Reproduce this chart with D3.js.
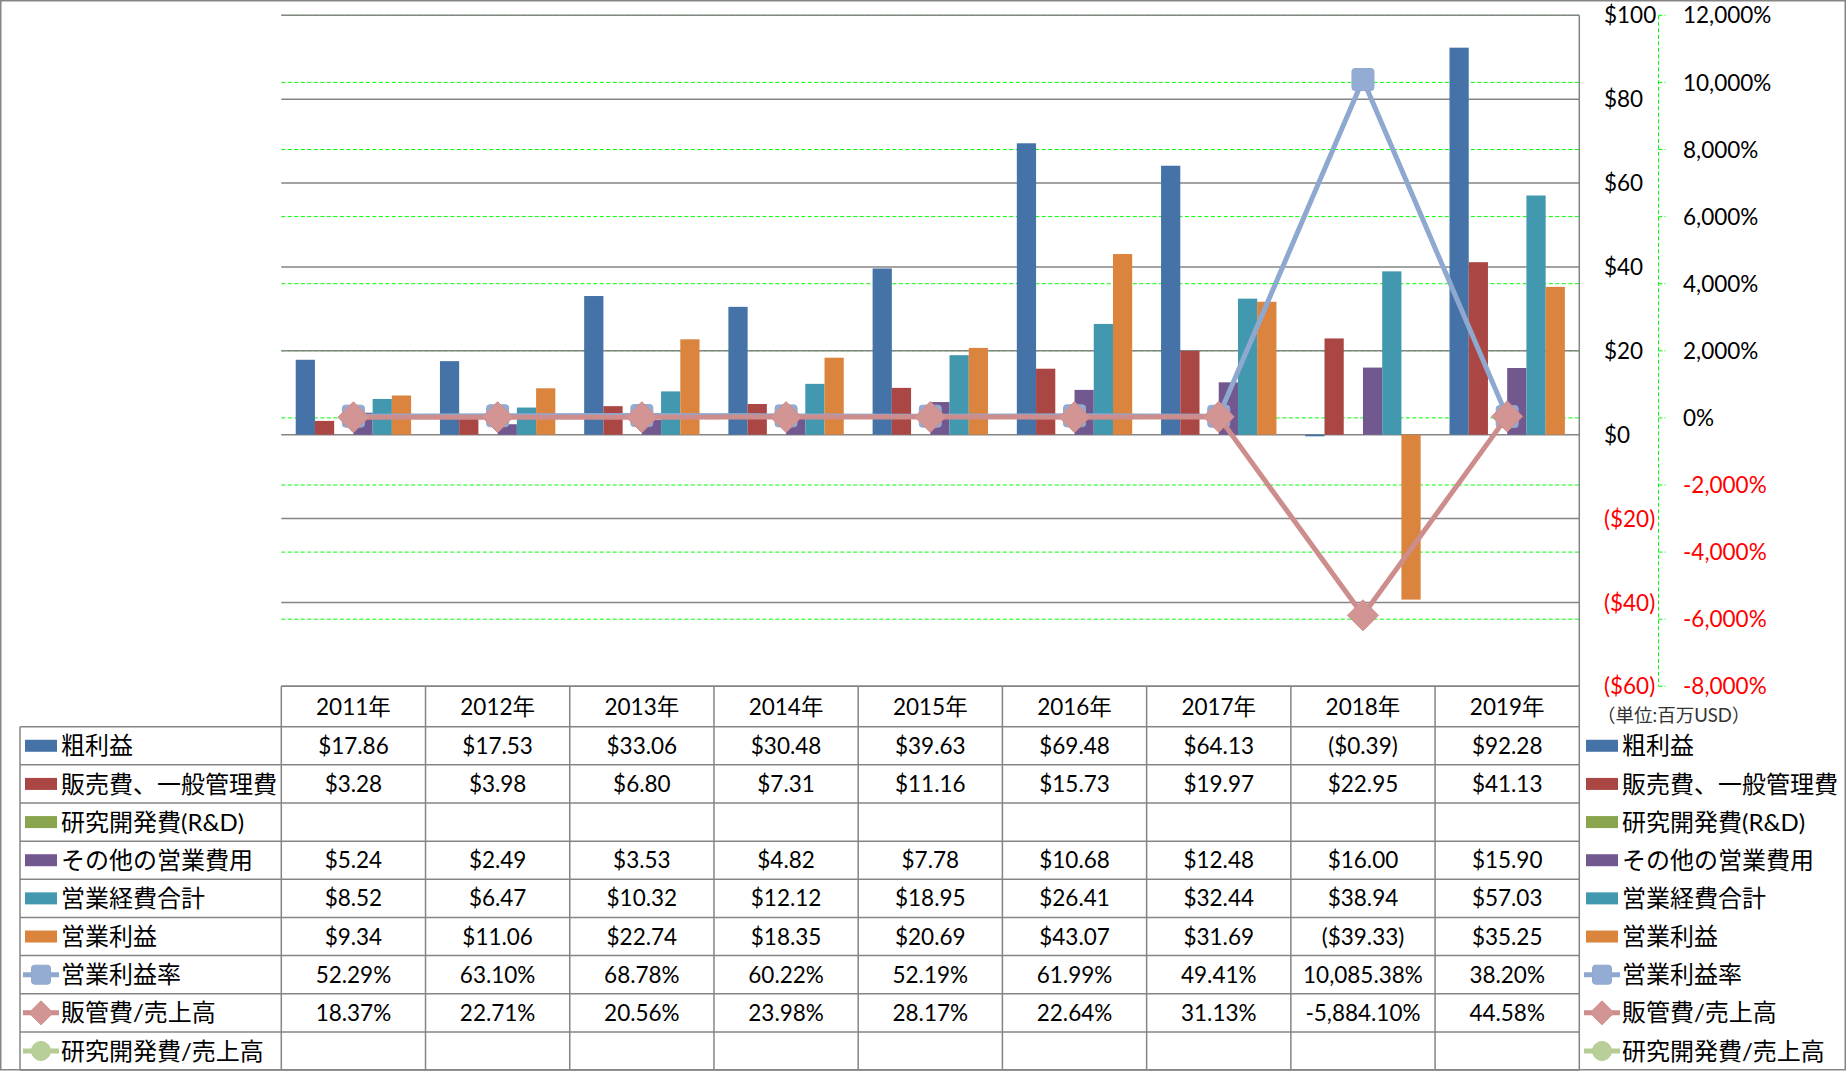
<!DOCTYPE html>
<html><head><meta charset="utf-8">
<script src="https://cdn.jsdelivr.net/npm/d3@7"></script>
<style>
body{margin:0;background:#fff}
svg{display:block}
text{font-family:Lato,'Noto Sans CJK JP',sans-serif}
</style>
</head><body>
<svg id="c" width="1846" height="1071"></svg>
<script>
// ---------- DATA ----------
const years = ["2011年","2012年","2013年","2014年","2015年","2016年","2017年","2018年","2019年"];
const grossProfit = [17.86,17.53,33.06,30.48,39.63,69.48,64.13,-0.39,92.28];
const sgaExpense  = [3.28,3.98,6.80,7.31,11.16,15.73,19.97,22.95,41.13];
const rndExpense  = [null,null,null,null,null,null,null,null,null];
const otherOpex   = [5.24,2.49,3.53,4.82,7.78,10.68,12.48,16.00,15.90];
const totalOpex   = [8.52,6.47,10.32,12.12,18.95,26.41,32.44,38.94,57.03];
const opIncome    = [9.34,11.06,22.74,18.35,20.69,43.07,31.69,-39.33,35.25];
const opMargin    = [52.29,63.10,68.78,60.22,52.19,61.99,49.41,10085.38,38.20];
const sgaRatio    = [18.37,22.71,20.56,23.98,28.17,22.64,31.13,-5884.10,44.58];
const rndRatio    = [null,null,null,null,null,null,null,null,null];
const leftTicks   = [100,80,60,40,20,0,-20,-40,-60];
const rightTicks  = [12000,10000,8000,6000,4000,2000,0,-2000,-4000,-6000,-8000];
const unitLabel   = "（単位:百万USD）";

const barSeries = [
  {name:"粗利益", values:grossProfit, color:"#4572A7"},
  {name:"販売費、一般管理費", values:sgaExpense, color:"#AA4643"},
  {name:"研究開発費(R&D)", values:rndExpense, color:"#89A54E"},
  {name:"その他の営業費用", values:otherOpex, color:"#71588F"},
  {name:"営業経費合計", values:totalOpex, color:"#4198AF"},
  {name:"営業利益", values:opIncome, color:"#DB843D"}
];
const lineSeries = [
  {name:"営業利益率", values:opMargin, color:"#8FA8CF", mfill:"#94ACD4", marker:"square"},
  {name:"販管費/売上高", values:sgaRatio, color:"#CD8D8C", mfill:"#D39594", marker:"diamond"},
  {name:"研究開発費/売上高", values:rndRatio, color:"#B5CC95", mfill:"#B9CF99", marker:"circle"}
];

// ---------- LAYOUT ----------
const svg = d3.select("#c");
const plotL = 281.3, plotR = 1579.3, plotT = 15.3, plotB = 686.3;
const headerB = 726.7, rowH = 38.15, tableB = headerB + rowH*9;
const legendL = 20;
const gridCol = "#858585";
const loc = d3.formatLocale({decimal:".", thousands:",", grouping:[3], currency:["$",""], minus:"-"});

const x = d3.scaleBand().domain(years).range([plotL, plotR]).padding(0);
const xs = d3.scaleBand().domain(d3.range(barSeries.length)).range([0, x.bandwidth()]).paddingInner(0).paddingOuter(0.75);
const yL = d3.scaleLinear().domain([-60,100]).range([plotB, plotT]);
const yR = d3.scaleLinear().domain([-8000,12000]).range([plotB, plotT]);

// outer border
svg.append("rect").attr("x",0.75).attr("y",0.75).attr("width",1844.5).attr("height",1069)
  .attr("fill","none").attr("stroke",gridCol).attr("stroke-width",1.5);

// green dashed gridlines (secondary)
svg.append("g").selectAll("line").data(rightTicks).join("line")
  .attr("x1",plotL).attr("x2",plotR)
  .attr("y1",d=>yR(d)).attr("y2",d=>yR(d))
  .attr("stroke","#00FF00").attr("stroke-width",1).attr("stroke-dasharray","4,2.5");

// grey gridlines (primary)
svg.append("g").selectAll("line").data(leftTicks).join("line")
  .attr("x1",plotL).attr("x2",plotR)
  .attr("y1",d=>yL(d)).attr("y2",d=>yL(d))
  .attr("stroke",gridCol).attr("stroke-width",1.5);

// plot right border
svg.append("line").attr("x1",plotR).attr("x2",plotR).attr("y1",plotT).attr("y2",plotB)
  .attr("stroke",gridCol).attr("stroke-width",1.5);

// bars
barSeries.forEach((s,i)=>{
  svg.append("g").selectAll("rect").data(s.values.map((v,j)=>({v,year:years[j]})).filter(d=>d.v!=null)).join("rect")
    .attr("x",d=>x(d.year)+xs(i))
    .attr("width",xs.bandwidth())
    .attr("y",d=>Math.min(yL(0),yL(d.v)))
    .attr("height",d=>Math.abs(yL(d.v)-yL(0)))
    .attr("fill",s.color);
});

// markers
function drawMarker(g, type, cx, cy, size, fill, stroke){
  if(type==="square"){
    g.append("rect").attr("x",cx-size/2).attr("y",cy-size/2).attr("width",size).attr("height",size)
      .attr("rx",3).attr("fill",fill).attr("stroke",stroke).attr("stroke-width",1);
  } else if(type==="diamond"){
    const h=size/2;
    g.append("path").attr("d",`M${cx},${cy-h}L${cx+h},${cy}L${cx},${cy+h}L${cx-h},${cy}Z`)
      .attr("fill",fill).attr("stroke",stroke).attr("stroke-width",1).attr("stroke-linejoin","round");
  } else {
    g.append("circle").attr("cx",cx).attr("cy",cy).attr("r",size/2).attr("fill",fill).attr("stroke",stroke).attr("stroke-width",1);
  }
}

// lines
const cx = d => x(d.year)+x.bandwidth()/2;
lineSeries.forEach(s=>{
  const data = s.values.map((v,j)=>({v,year:years[j]}));
  const g = svg.append("g");
  g.append("path").datum(data)
    .attr("d", d3.line().defined(d=>d.v!=null).x(cx).y(d=>yR(d.v)))
    .attr("fill","none").attr("stroke",s.color).attr("stroke-width",5).attr("stroke-linejoin","round");
  data.filter(d=>d.v!=null).forEach(d=>{
    drawMarker(g, s.marker, cx(d), yR(d.v), s.marker==="diamond"?31:22, s.mfill, s.color);
  });
});

// primary axis labels
svg.append("g").selectAll("text").data(leftTicks).join("text")
  .attr("x",1604).attr("y",d=>yL(d)).attr("dy","0.36em")
  .attr("font-size",22.5).attr("fill",d=>d<0?"#FF0000":"#000")
  .text(d=>d<0?`($${Math.abs(d)})`:`$${d}`);

// secondary axis
const axX = 1658.5;
svg.append("line").attr("x1",axX).attr("x2",axX).attr("y1",plotT).attr("y2",plotB)
  .attr("stroke","#00FF00").attr("stroke-width",1).attr("stroke-dasharray","4,2.5");
svg.append("g").selectAll("line").data(rightTicks).join("line")
  .attr("x1",axX).attr("x2",axX+7).attr("y1",d=>yR(d)).attr("y2",d=>yR(d))
  .attr("stroke","#00FF00").attr("stroke-width",1).attr("stroke-dasharray","4,2");
svg.append("g").selectAll("text").data(rightTicks).join("text")
  .attr("x",1683).attr("y",d=>yR(d)).attr("dy","0.36em")
  .attr("font-size",22.5).attr("fill",d=>d<0?"#FF0000":"#000")
  .text(d=>loc.format(",")(d)+"%");

// unit label
svg.append("text").attr("x",1597).attr("y",715).attr("dy","0.36em")
  .attr("font-size",18.5).attr("fill","#333").text(unitLabel);

// ---------- DATA TABLE ----------
const tg = svg.append("g");
tg.append("line").attr("x1",plotL).attr("x2",plotR).attr("y1",plotB).attr("y2",plotB)
  .attr("stroke",gridCol).attr("stroke-width",1.5);
d3.range(10).forEach(i=>{
  const y = headerB + i*rowH;
  tg.append("line").attr("x1",legendL).attr("x2",plotR).attr("y1",y).attr("y2",y)
    .attr("stroke",gridCol).attr("stroke-width",1.5);
});
years.concat(["end"]).forEach((yr,i)=>{
  const xx = i<years.length ? x(yr) : plotR;
  tg.append("line").attr("x1",xx).attr("x2",xx).attr("y1",plotB).attr("y2",tableB)
    .attr("stroke",gridCol).attr("stroke-width",1.5);
});
tg.append("line").attr("x1",legendL).attr("x2",legendL).attr("y1",headerB).attr("y2",tableB)
  .attr("stroke",gridCol).attr("stroke-width",1.5);

tg.selectAll("text.yr").data(years).join("text").attr("class","yr")
  .attr("x",d=>x(d)+x.bandwidth()/2).attr("y",(plotB+headerB)/2).attr("dy","0.36em")
  .attr("text-anchor","middle").attr("font-size",22.5).text(d=>d);

const money = v => v<0 ? `($${Math.abs(v).toFixed(2)})` : `$${v.toFixed(2)}`;
const pct = v => loc.format(",.2f")(v)+"%";
const rows = barSeries.map(s=>({...s, type:"bar", fmt:money}))
  .concat(lineSeries.map(s=>({...s, type:"line", fmt:pct})));

function legendKey(g, s, x0, cy){
  if(s.type==="bar"){
    g.append("rect").attr("x",x0).attr("y",cy-6).attr("width",32).attr("height",12).attr("fill",s.color);
  } else {
    g.append("line").attr("x1",x0-2).attr("x2",x0+34).attr("y1",cy).attr("y2",cy)
      .attr("stroke",s.color).attr("stroke-width",5);
    drawMarker(g, s.marker, x0+16, cy, s.marker==="diamond"?24:19, s.mfill, s.color);
  }
}

rows.forEach((s,r)=>{
  const cy = headerB + rowH*(r+0.5);
  legendKey(tg, s, 25, cy);
  tg.append("text").attr("x",61).attr("y",cy).attr("dy","0.36em").attr("font-size",24).text(s.name);
  legendKey(tg, s, 1586, cy);
  tg.append("text").attr("x",1622).attr("y",cy).attr("dy","0.36em").attr("font-size",24).text(s.name);
  s.values.forEach((v,j)=>{
    if(v==null) return;
    tg.append("text").attr("x",x(years[j])+x.bandwidth()/2).attr("y",cy).attr("dy","0.36em")
      .attr("text-anchor","middle").attr("font-size",22.5).text(s.fmt(v));
  });
});
</script>
</body></html>
